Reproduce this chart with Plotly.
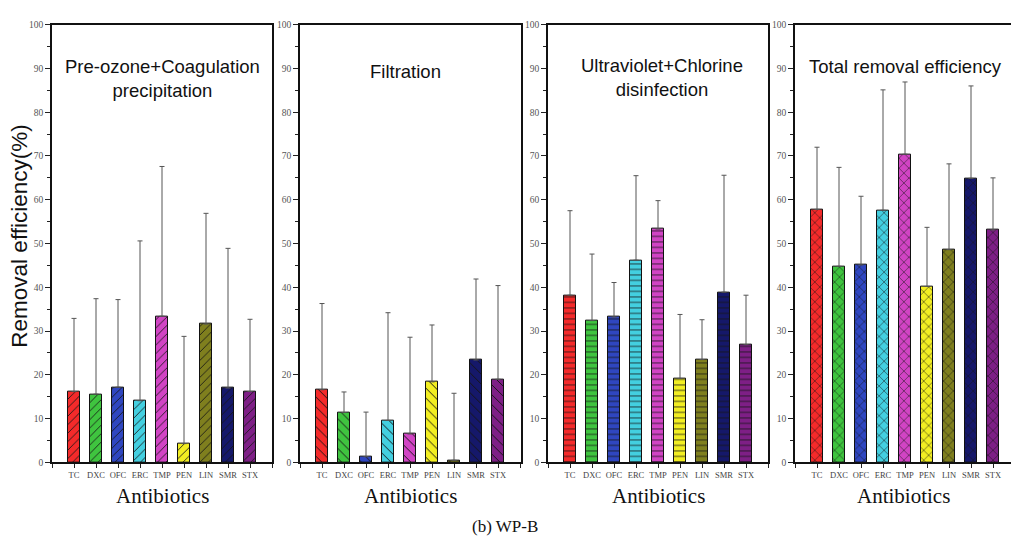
import plotly.graph_objects as go

antibiotics = ["TC", "DXC", "OFC", "ERC", "TMP", "PEN", "LIN", "SMR", "STX"]
colors = ["#f42a2a", "#3fc43f", "#2f46c0", "#43cfe0", "#d144c4", "#f2ee22", "#7f7f1e", "#15186a", "#7e1f86"]

panel_titles = ["Pre-ozone+Coagulation<br>precipitation", "Filtration",
                "Ultraviolet+Chlorine<br>disinfection", "Total removal efficiency"]

# mean removal efficiency (%) and top of error bar (%)
pre_mean = [16.2, 15.6, 17.2, 14.1, 33.4, 4.3, 31.6, 17.0, 16.2]
pre_top = [32.9, 37.4, 37.2, 50.6, 67.6, 28.8, 56.9, 48.9, 32.7]
filt_mean = [16.6, 11.4, 1.3, 9.6, 6.5, 18.4, 0.5, 23.4, 19.0]
filt_top = [36.3, 16.1, 11.5, 34.2, 28.6, 31.4, 15.8, 41.9, 40.4]
uv_mean = [38.2, 32.4, 33.2, 46.2, 53.3, 19.2, 23.5, 38.9, 26.9]
uv_top = [57.5, 47.6, 41.1, 65.5, 59.8, 33.8, 32.6, 65.6, 38.2]
tot_mean = [57.8, 44.8, 45.1, 57.6, 70.4, 40.2, 48.6, 64.9, 53.1]
tot_top = [72.0, 67.4, 60.8, 85.1, 86.9, 53.7, 68.2, 86.0, 65.0]

means = [pre_mean, filt_mean, uv_mean, tot_mean]
tops = [pre_top, filt_top, uv_top, tot_top]
patterns = ["/", "\\", "-", "x"]
pat_sizes = [6, 7, 5.5, 7]

W, H = 1011, 545
panels_px = [(52, 272), (300, 521), (548, 768), (795, 1011)]
y_top_px, y_bot_px = 20, 466
ydom = [1 - y_bot_px / H, 1 - y_top_px / H]
unit_px = 22.0

positions = list(range(1, 10))
fig = go.Figure()
serif = "Liberation Serif, Times New Roman, serif"
sans = "Liberation Sans, Arial, sans-serif"

for i in range(4):
    ax = "" if i == 0 else str(i + 1)
    for j in range(9):
        fig.add_trace(go.Bar(
            x=[positions[j]], y=[means[i][j]], width=0.53, name=antibiotics[j],
            marker=dict(color=colors[j], line=dict(color="#111111", width=1),
                        pattern=dict(shape=patterns[i], fgcolor="#151515", bgcolor=colors[j],
                                     fillmode="replace", size=pat_sizes[i], solidity=0.14)),
            error_y=dict(type="data", array=[tops[i][j] - means[i][j]], arrayminus=[0], symmetric=False,
                         color="#555555", thickness=1, width=2.5),
            xaxis="x" + ax, yaxis="y" + ax, showlegend=False))
    x0, x1 = panels_px[i]
    rng_hi = (x1 - x0) / unit_px
    last = i == 3
    fig.layout["xaxis" + ax] = dict(
        domain=[x0 / W, x1 / W], range=[0, rng_hi], anchor="y" + ax,
        tickmode="array", tickvals=list(range(0, 11)),
        ticktext=[""] + antibiotics + [""],
        ticks="outside", ticklen=4, tickwidth=1, tickcolor="#222",
        showline=True, linecolor="#111", linewidth=1.5, mirror=True,
        showgrid=False, zeroline=False,
        tickfont=dict(family=serif, size=8.5, color="#444"))
    fig.layout["yaxis" + ax] = dict(
        domain=ydom, range=[0, 100], anchor="x" + ax,
        tickmode="linear", tick0=0, dtick=10,
        ticks="outside", ticklen=5, tickwidth=1, tickcolor="#222",
        minor=dict(dtick=5, ticks="outside", ticklen=3, tickcolor="#222"),
        showline=True, linecolor="#111", linewidth=1.5, mirror=not last,
        showgrid=False, zeroline=False,
        tickfont=dict(family=serif, size=9.5, color="#555"))

annotations = []
title_pos = [(162, 75), (405, 68), (662, 74), (905, 63)]
for i, t in enumerate(panel_titles):
    annotations.append(dict(text=t, x=title_pos[i][0] / W, y=1 - title_pos[i][1] / H,
                            xref="paper", yref="paper", showarrow=False,
                            font=dict(family=sans, size=18.5, color="#111"),
                            xanchor="center", yanchor="middle"))
xcent = [162, 410, 658, 903]
for c in xcent:
    annotations.append(dict(text="Antibiotics", x=c / W, y=1 - 500 / H, xref="paper", yref="paper",
                            showarrow=False, font=dict(family=serif, size=21, color="#111"),
                            xanchor="center", yanchor="middle"))
annotations.append(dict(text="Removal efficiency(%)", x=20 / W, y=1 - 236 / H, xref="paper", yref="paper",
                        showarrow=False, textangle=-90, font=dict(family=sans, size=22.5, color="#111"),
                        xanchor="center", yanchor="middle"))
annotations.append(dict(text="(b) WP-B", x=505 / W, y=1 - 531 / H, xref="paper", yref="paper",
                        showarrow=False, font=dict(family=serif, size=17, color="#111"),
                        xanchor="center", yanchor="middle"))

fig.update_layout(width=W, height=H, margin=dict(l=0, r=0, t=0, b=0),
                  paper_bgcolor="white", plot_bgcolor="white",
                  annotations=annotations, bargap=0, barmode="overlay")
fig.write_html("out.html")
